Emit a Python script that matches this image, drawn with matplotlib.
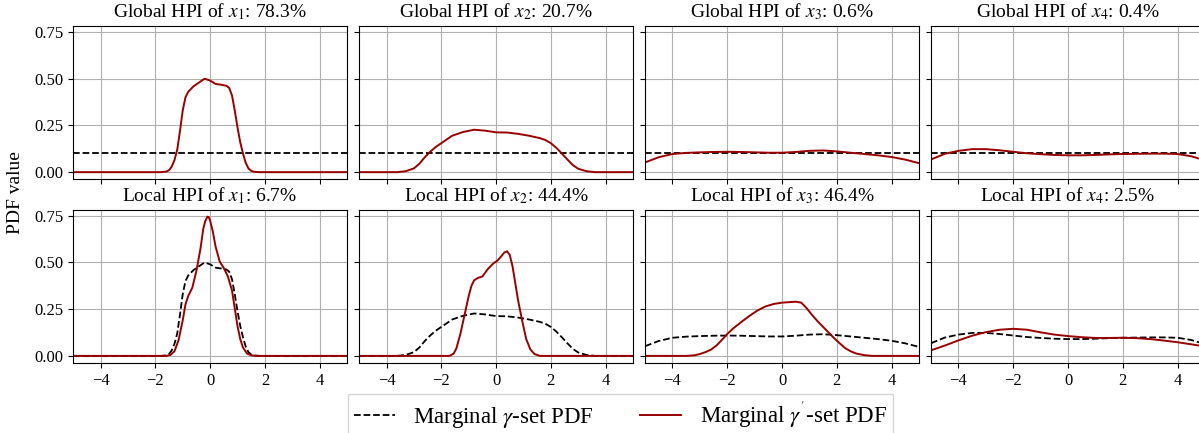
import numpy as np
import matplotlib
matplotlib.use("Agg")
import matplotlib.pyplot as plt

# =========================
# FONTS
# =========================
plt.rcParams['font.family'] = ['Liberation Serif', 'DejaVu Serif']
plt.rcParams['mathtext.fontset'] = 'stix'

# =========================
# DATA
# =========================
variables = ["x_1", "x_2", "x_3", "x_4"]
global_hpi = [78.3, 20.7, 0.6, 0.4]
local_hpi = [6.7, 44.4, 46.4, 2.5]

# uniform gamma-set PDF on [-5, 5]
uniform_x = [-5, 5]
uniform_y = [0.1, 0.1]

# global gamma'-set PDFs (also the gamma-set PDFs of the local row)
g1_x = [-5, -1.8, -1.6, -1.5, -1.4, -1.3, -1.2, -1.1, -1.0, -0.9, -0.8, -0.6, -0.4, -0.2,
        0.0, 0.2, 0.4, 0.6, 0.7, 0.8, 0.9, 1.0, 1.1, 1.2, 1.3, 1.4, 1.5, 1.6, 1.8, 5]
g1_y = [0, 0, 0.003, 0.01, 0.03, 0.065, 0.12, 0.22, 0.33, 0.40, 0.43, 0.46, 0.48, 0.50,
        0.49, 0.472, 0.468, 0.462, 0.45, 0.41, 0.33, 0.24, 0.16, 0.10, 0.05, 0.02, 0.007,
        0.002, 0, 0]

g2_x = [-5, -3.6, -3.3, -3.0, -2.8, -2.6, -2.4, -2.2, -2.0, -1.6, -1.2, -0.8, -0.4, 0.0,
        0.4, 0.8, 1.2, 1.6, 1.8, 2.0, 2.2, 2.4, 2.6, 2.8, 3.0, 3.3, 3.6, 5]
g2_y = [0, 0, 0.005, 0.02, 0.045, 0.08, 0.11, 0.135, 0.155, 0.195, 0.215, 0.227, 0.222,
        0.213, 0.212, 0.205, 0.195, 0.182, 0.172, 0.155, 0.13, 0.10, 0.068, 0.038, 0.018,
        0.005, 0, 0]

g3_x = [-5, -4.5, -4, -3.5, -3, -2.5, -2, -1.5, -1, -0.5, 0, 0.5, 1, 1.5, 2, 2.5, 3, 3.5,
        4, 4.5, 5]
g3_y = [0.052, 0.08, 0.097, 0.103, 0.106, 0.108, 0.109, 0.108, 0.106, 0.104, 0.104, 0.108,
        0.114, 0.116, 0.111, 0.104, 0.097, 0.09, 0.081, 0.067, 0.048]

g4_x = [-5, -4.5, -4, -3.5, -3, -2.5, -2, -1.5, -1, -0.5, 0, 0.5, 1, 1.5, 2, 2.5, 3, 3.5,
        4, 4.5, 5]
g4_y = [0.068, 0.098, 0.114, 0.123, 0.123, 0.117, 0.109, 0.101, 0.096, 0.092, 0.09, 0.09,
        0.092, 0.095, 0.097, 0.098, 0.099, 0.099, 0.097, 0.085, 0.063]

# local gamma'-set PDFs
l1_x = [-5, -1.6, -1.45, -1.3, -1.15, -1.0, -0.9, -0.8, -0.65, -0.5, -0.35, -0.25, -0.18,
        -0.1, -0.05, 0.0, 0.1, 0.2, 0.35, 0.5, 0.65, 0.8, 0.9, 1.0, 1.1, 1.2, 1.35, 1.5,
        1.7, 5]
l1_y = [0, 0, 0.005, 0.025, 0.085, 0.19, 0.275, 0.32, 0.365, 0.455, 0.575, 0.68, 0.72,
        0.745, 0.743, 0.725, 0.665, 0.585, 0.505, 0.47, 0.425, 0.35, 0.255, 0.16, 0.09,
        0.045, 0.012, 0.003, 0, 0]

l2_x = [-5, -1.7, -1.55, -1.45, -1.3, -1.15, -1.0, -0.9, -0.8, -0.65, -0.5, -0.3, -0.1,
        0.05, 0.2, 0.3, 0.4, 0.5, 0.6, 0.7, 0.8, 0.95, 1.1, 1.25, 1.4, 1.6, 5]
l2_y = [0, 0, 0.012, 0.04, 0.12, 0.22, 0.32, 0.375, 0.405, 0.418, 0.425, 0.465, 0.495,
        0.51, 0.535, 0.553, 0.56, 0.54, 0.48, 0.39, 0.30, 0.19, 0.09, 0.035, 0.01, 0, 0]

l3_x = [-5, -3.5, -3.2, -3.0, -2.8, -2.6, -2.4, -2.2, -2.0, -1.8, -1.5, -1.2, -0.9, -0.6,
        -0.3, 0.0, 0.3, 0.5, 0.7, 0.9, 1.1, 1.3, 1.5, 1.7, 1.9, 2.1, 2.3, 2.5, 2.7, 3.0,
        3.3, 5]
l3_y = [0, 0, 0.003, 0.01, 0.02, 0.033, 0.055, 0.085, 0.117, 0.145, 0.18, 0.213, 0.243,
        0.265, 0.278, 0.285, 0.288, 0.29, 0.285, 0.255, 0.218, 0.185, 0.155, 0.125, 0.095,
        0.068, 0.042, 0.025, 0.013, 0.004, 0, 0]

l4_x = [-5, -4.5, -4, -3.5, -3, -2.5, -2, -1.5, -1, -0.5, 0, 0.5, 1, 1.5, 2, 2.5, 3, 3.5,
        4, 4.5, 5]
l4_y = [0.03, 0.055, 0.083, 0.108, 0.127, 0.14, 0.145, 0.14, 0.126, 0.114, 0.106, 0.1,
        0.096, 0.096, 0.097, 0.095, 0.09, 0.082, 0.073, 0.062, 0.05]

global_curves = [(g1_x, g1_y), (g2_x, g2_y), (g3_x, g3_y), (g4_x, g4_y)]
local_curves = [(l1_x, l1_y), (l2_x, l2_y), (l3_x, l3_y), (l4_x, l4_y)]

y_ticks = [0.0, 0.25, 0.5, 0.75]
x_ticks = [-4, -2, 0, 2, 4]

# =========================
# PLOT
# =========================
fig, axes = plt.subplots(2, 4, figsize=(11.99, 4.33), dpi=100, sharex=True, sharey=True)
fig.subplots_adjust(left=0.061, right=1.005, top=0.94, bottom=0.162, wspace=0.044, hspace=0.2)

red = "#990000"

for i in range(4):
    ax_g = axes[0, i]
    ax_l = axes[1, i]

    ax_g.plot(uniform_x, uniform_y, "--", color="black", lw=1.3)
    ax_g.plot(*global_curves[i], color=red, lw=1.4)
    ax_g.set_title(f"Global HPI of ${variables[i]}$: {global_hpi[i]}%", fontsize=14)

    ax_l.plot(*global_curves[i], "--", color="black", lw=1.3)
    ax_l.plot(*local_curves[i], color=red, lw=1.4)
    ax_l.set_title(f"Local HPI of ${variables[i]}$: {local_hpi[i]}%", fontsize=14)

for ax in axes.flat:
    ax.grid(True, color="#b0b0b0", lw=0.8)
    ax.set_xlim(-5, 5)
    ax.set_xticks(x_ticks)
    ax.set_yticks(y_ticks)
    ax.set_yticklabels([f"{t:.2f}" for t in y_ticks])
    ax.tick_params(labelsize=12)

fig.text(0.013, 1 - 193 / 433, "PDF value", rotation=90, va="center", ha="center", fontsize=14)

handles = [
    plt.Line2D([], [], ls="--", color="black", lw=1.3),
    plt.Line2D([], [], color=red, lw=1.4),
]
labels = [r"Marginal $\gamma$-set PDF", r"Marginal $\gamma^{'}$-set PDF"]
fig.legend(handles, labels, loc="upper center", bbox_to_anchor=(0.5175, 1 - 394 / 433), ncol=2,
           fontsize=16.5, handlelength=1.8, borderaxespad=0, borderpad=0.25,
           fancybox=False, edgecolor="#cccccc")

plt.savefig("out.png")
